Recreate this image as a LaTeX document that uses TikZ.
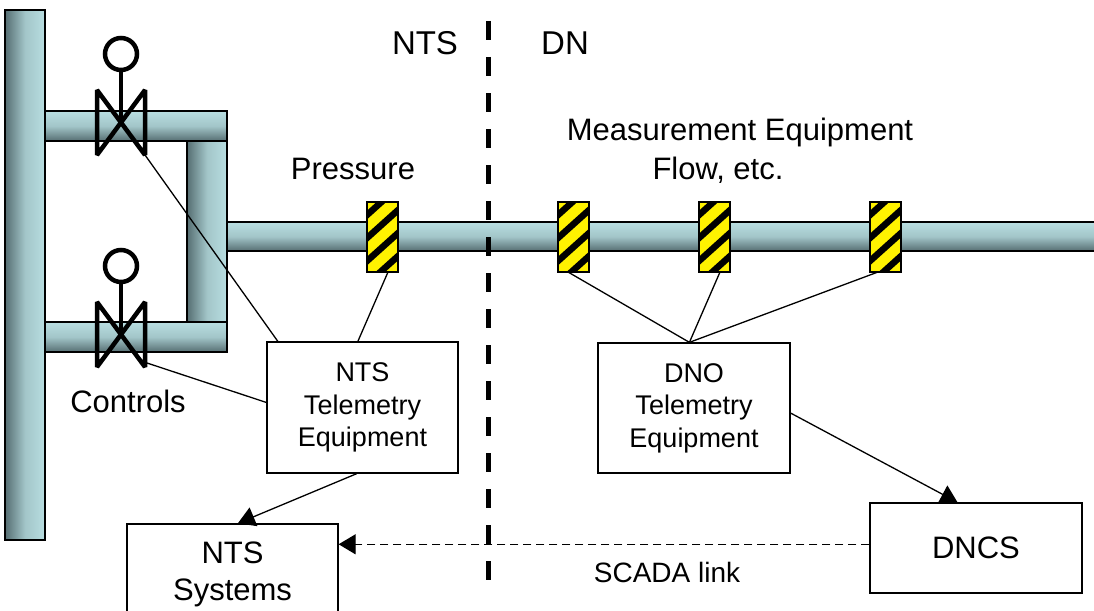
\documentclass[tikz,border=0pt]{standalone}
\usepackage{fontspec}
\setmainfont{Liberation Sans}
\usetikzlibrary{arrows.meta}
\definecolor{pipelight}{RGB}{184,222,225}
\definecolor{pipedark}{RGB}{86,110,114}
\tikzset{
	telebox/.style={draw, line width=1.3pt, inner sep=0pt, align=center, font=\fontsize{27}{32.5}\selectfont},
	sysbox/.style={draw, line width=1.3pt, inner sep=0pt, align=center, font=\fontsize{31}{37}\selectfont},
	lbl/.style={anchor=base, inner sep=0pt, font=\fontsize{31}{37}\selectfont},
	conn/.style={line width=1.3pt},
	tip/.style={-{Triangle[length=17pt,width=20pt]}}
}
\def\hpipe(#1,#2)(#3,#4){\draw[line width=1.2pt, top color=pipelight, bottom color=pipedark, middle color=pipelight!78!pipedark] (#1,#2) rectangle (#3,#4);}
\def\vpipe(#1,#2)(#3,#4){\draw[line width=1.2pt, left color=pipedark, right color=pipelight, middle color=pipelight!78!pipedark] (#1,#2) rectangle (#3,#4);}
\def\valve(#1,#2){%
	\draw[line width=4.5pt, line join=bevel] (#1-24,#2-32) -- (#1+24,#2+33) -- (#1+24,#2-32) -- (#1-24,#2+33) -- cycle;
	\draw[line width=4.5pt] (#1,#2) -- (#1,#2-52);
	\draw[line width=4.5pt, fill=white] (#1,#2-68) circle (16pt);}
\def\sensor(#1){%
	\begin{scope}
		\clip (#1,202) rectangle ++(31,70);
		\fill[yellow] (#1,202) rectangle ++(31,70);
		\foreach \k in {-1,...,3} \draw[line width=6.5pt] (#1-3, 217.7+23*\k) -- ++(37,-33.3);
	\end{scope}
	\draw[line width=1.2pt] (#1,202) rectangle ++(31,70);}

\begin{document}
\begin{tikzpicture}[x=1pt, y=-1pt]
		%%%%% START %%%%%
		\useasboundingbox (0,0) rectangle (1094,610);
		
		% pipework
		\vpipe(5,10)(45,540)
		\hpipe(45,111)(227,141)
		\hpipe(45,322)(227,352)
		\vpipe(187,141)(227,322)
		\hpipe(227,222)(1100,251)
		
		\valve(121,122)
		\valve(121,334)
		
		\draw[line width=5pt, dash pattern=on 19pt off 17pt] (488,21) -- (488,580);
		
		\sensor(367)
		\sensor(558)
		\sensor(699)
		\sensor(870)
		
		% labels
		\node[lbl, font=\fontsize{33}{40}\selectfont] at (425,55) {NTS};
		\node[lbl, font=\fontsize{33}{40}\selectfont] at (565,55) {DN};
		\node[lbl] at (353,179) {Pressure};
		\node[lbl] at (740,140) {Measurement Equipment};
		\node[lbl] at (718,179) {Flow, etc.};
		\node[lbl] at (128,412) {Controls};
		\node[lbl, font=\fontsize{28}{34}\selectfont] at (667,582) {SCADA link};
		
		% boxes
		\node[telebox, minimum width=191pt, minimum height=131pt] (ntstel) at (362.5,407.5) {NTS\\Telemetry\\Equipment};
		\node[telebox, minimum width=192pt, minimum height=130pt] (dnotel) at (694,408) {DNO\\Telemetry\\Equipment};
		\node[sysbox, minimum width=211pt, minimum height=100pt] (ntssys) at (232.5,574) {NTS\\Systems};
		\node[sysbox, minimum width=212pt, minimum height=90pt] (dncs) at (976,548) {DNCS};
		
		% connectors
		\coordinate (valveup) at (145,155);
		\coordinate (valvelow) at (147,363);
		\coordinate (pres) at (388,272);
		\coordinate (meas1) at (568,272);
		\coordinate (meas2) at (720,272);
		\coordinate (meas3) at (878,272);
		
		\draw[conn] (valveup) -- (ntstel.142.5);
		\draw[conn] (valvelow) -- (ntstel.177);
		\draw[conn] (pres) -- (ntstel.94);
		\draw[conn] (meas1) -- (dnotel.94);
		\draw[conn] (meas2) -- (dnotel.94);
		\draw[conn] (meas3) -- (dnotel.94);
		\draw[conn, tip] (ntstel.265) -- (ntssys.84);
		\draw[conn, tip] (dnotel.-3) -- (dncs.112);
		\draw[conn, tip, dash pattern=on 8pt off 5pt] (dncs.178) -- (dncs.178 -| ntssys.east);
		%%%%% END %%%%%
	\end{tikzpicture}
\end{document}
